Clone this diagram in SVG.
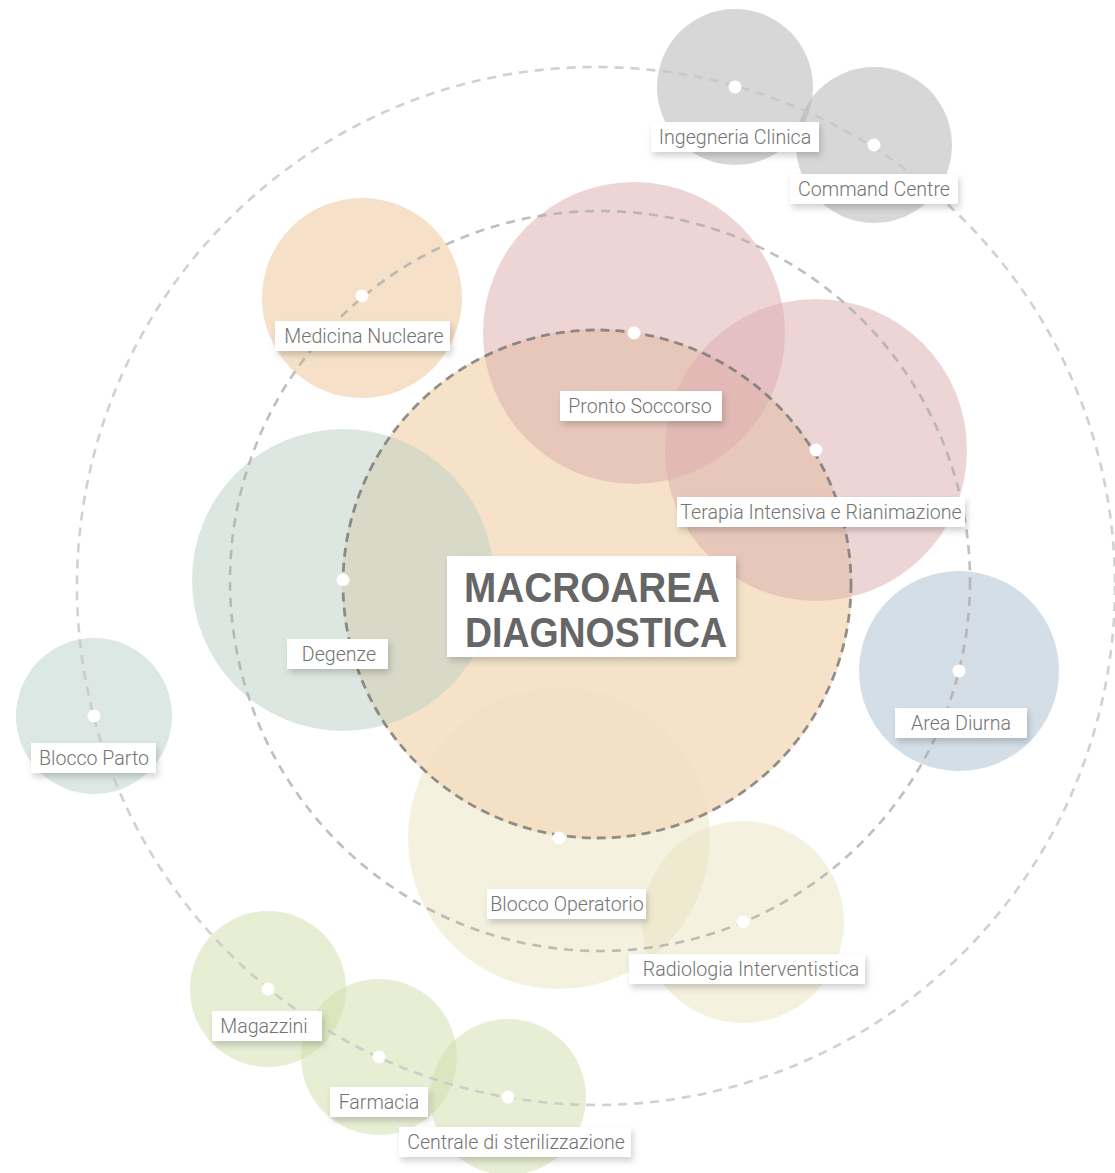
<svg xmlns="http://www.w3.org/2000/svg" width="1115" height="1173" viewBox="0 0 1115 1173">
  <defs>
    <filter id="soft-shadow" x="-20%" y="-40%" width="140%" height="200%">
      <feDropShadow dx="2" dy="4" stdDeviation="3" flood-color="#000" flood-opacity="0.18"/>
    </filter>
    <style>
      .area { stroke: none; fill-opacity: 0.5; }
      .grey { fill: #b0b0b0; }
      .peach { fill: #edc391; }
      .core { fill: #f3ddbf; fill-opacity: 0.85; }
      .rose { fill: #dbabad; }
      .sage { fill: #bbcfc5; }
      .mint { fill: #b9d1c7; }
      .sky { fill: #a9bdcf; }
      .sand { fill: #e9e3bf; }
      .lime { fill: #cfdda9; }
      .orbit { fill: none; stroke-width: 2.6; }
      .orbit-outer { stroke: #c6c6c6; stroke-dasharray: 9 7; stroke-opacity: 0.8; }
      .orbit-middle { stroke: #a9a9a9; stroke-dasharray: 9 7; stroke-opacity: 0.75; }
      .orbit-inner { stroke: #6f6f6f; stroke-dasharray: 9 6; stroke-opacity: 0.75; stroke-width: 2.8; }
      .dot { fill: #ffffff; }
      .tag { fill: #ffffff; filter: url(#soft-shadow); }
      .tag-text { font-family: Roboto, "Liberation Sans", sans-serif; font-weight: 300; font-size: 19.6px; fill: #737373; text-anchor: middle; }
      .title { font-family: "Liberation Sans", Arial, sans-serif; font-weight: 700; font-size: 42px; fill: #666666; text-anchor: middle; }
    </style>
  </defs>

  <rect width="1115" height="1173" fill="#ffffff"/>

  <!-- coloured areas -->
  <g id="areas">
    <g id="blocco-operatorio-area"><circle class="area sand" cx="559" cy="838" r="151"/></g>
    <g id="radiologia-area"><circle class="area sand" cx="743" cy="922" r="101"/></g>
    <g id="macroarea-diagnostica-area"><circle class="area core" cx="597" cy="584" r="255"/></g>
    <g id="degenze-area"><circle class="area sage" cx="343" cy="580" r="151"/></g>
    <g id="pronto-soccorso-area"><circle class="area rose" cx="634" cy="333" r="151"/></g>
    <g id="terapia-intensiva-area"><circle class="area rose" cx="816" cy="450" r="151"/></g>
    <g id="medicina-nucleare-area"><circle class="area peach" cx="362" cy="298" r="100"/></g>
    <g id="ingegneria-clinica-area"><circle class="area grey" cx="735" cy="87" r="78"/></g>
    <g id="command-centre-area"><circle class="area grey" cx="874" cy="145" r="78"/></g>
    <g id="area-diurna-area"><circle class="area sky" cx="959" cy="671" r="100"/></g>
    <g id="blocco-parto-area"><circle class="area mint" cx="94" cy="716" r="78"/></g>
    <g id="magazzini-area"><circle class="area lime" cx="268" cy="989" r="78"/></g>
    <g id="farmacia-area"><circle class="area lime" cx="379" cy="1057" r="78"/></g>
    <g id="centrale-sterilizzazione-area"><circle class="area lime" cx="508" cy="1097" r="78"/></g>
  </g>

  <!-- dashed orbits linking the areas -->
  <g id="connectors">
    <circle class="orbit orbit-outer" cx="596" cy="586" r="519"/>
    <circle class="orbit orbit-middle" cx="600" cy="581" r="370"/>
    <circle class="orbit orbit-inner" cx="597" cy="584" r="254"/>
  </g>

  <!-- anchor points and labels -->
  <g id="ingegneria-clinica">
    <circle class="dot" cx="735" cy="87" r="6.5"/>
    <rect class="tag" x="651" y="122" width="168" height="30"/>
    <text class="tag-text" x="735" y="144">Ingegneria Clinica</text>
  </g>
  <g id="command-centre">
    <circle class="dot" cx="874" cy="145" r="6.5"/>
    <rect class="tag" x="790" y="174" width="168" height="30"/>
    <text class="tag-text" x="874" y="196">Command Centre</text>
  </g>
  <g id="medicina-nucleare">
    <circle class="dot" cx="362" cy="296" r="6.5"/>
    <rect class="tag" x="275" y="321" width="175" height="30"/>
    <text class="tag-text" x="364" y="343">Medicina Nucleare</text>
  </g>
  <g id="pronto-soccorso">
    <circle class="dot" cx="634" cy="333" r="6.5"/>
    <rect class="tag" x="560" y="391" width="162" height="30"/>
    <text class="tag-text" x="640" y="413">Pronto Soccorso</text>
  </g>
  <g id="terapia-intensiva">
    <circle class="dot" cx="816" cy="450" r="6.5"/>
    <rect class="tag" x="677" y="497" width="288" height="30"/>
    <text class="tag-text" x="821" y="519">Terapia Intensiva e Rianimazione</text>
  </g>
  <g id="degenze">
    <circle class="dot" cx="343" cy="580" r="6.5"/>
    <rect class="tag" x="287" y="639" width="101" height="30"/>
    <text class="tag-text" x="339" y="661">Degenze</text>
  </g>
  <g id="area-diurna">
    <circle class="dot" cx="959" cy="671" r="6.5"/>
    <rect class="tag" x="895" y="708" width="132" height="30"/>
    <text class="tag-text" x="961" y="730">Area Diurna</text>
  </g>
  <g id="blocco-parto">
    <circle class="dot" cx="94" cy="716" r="6.5"/>
    <rect class="tag" x="31" y="743" width="125" height="30"/>
    <text class="tag-text" x="94" y="765">Blocco Parto</text>
  </g>
  <g id="blocco-operatorio">
    <circle class="dot" cx="559" cy="838" r="6.5"/>
    <rect class="tag" x="487" y="889" width="159" height="30"/>
    <text class="tag-text" x="567" y="911">Blocco Operatorio</text>
  </g>
  <g id="radiologia-interventistica">
    <circle class="dot" cx="743" cy="922" r="6.5"/>
    <rect class="tag" x="629" y="954" width="236" height="30"/>
    <text class="tag-text" x="751" y="976">Radiologia Interventistica</text>
  </g>
  <g id="magazzini">
    <circle class="dot" cx="268" cy="989" r="6.5"/>
    <rect class="tag" x="212" y="1011" width="110" height="30"/>
    <text class="tag-text" x="264" y="1033">Magazzini</text>
  </g>
  <g id="farmacia">
    <circle class="dot" cx="379" cy="1057" r="6.5"/>
    <rect class="tag" x="330" y="1087" width="98" height="30"/>
    <text class="tag-text" x="379" y="1109">Farmacia</text>
  </g>
  <g id="centrale-sterilizzazione">
    <circle class="dot" cx="508" cy="1097" r="6.5"/>
    <rect class="tag" x="399" y="1127" width="232" height="30"/>
    <text class="tag-text" x="516" y="1149">Centrale di sterilizzazione</text>
  </g>

  <!-- central title -->
  <g id="macroarea-diagnostica">
    <rect class="tag" x="447" y="556" width="289" height="101"/>
    <text class="title" x="592" y="602" textLength="256" lengthAdjust="spacingAndGlyphs">MACROAREA</text>
    <text class="title" x="596" y="647" textLength="262" lengthAdjust="spacingAndGlyphs">DIAGNOSTICA</text>
  </g>
</svg>
